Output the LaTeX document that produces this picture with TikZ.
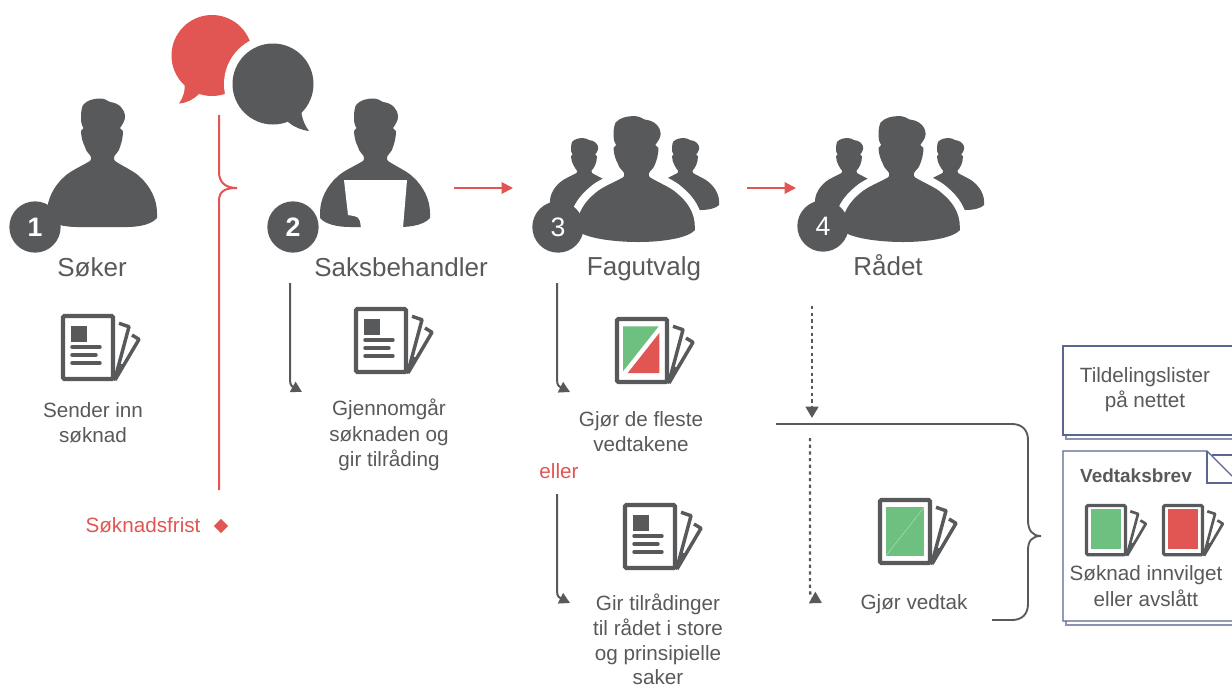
\documentclass[tikz,border=0pt]{standalone}
\usepackage{fontspec}
\setmainfont{Liberation Sans}
\usetikzlibrary{arrows.meta,shapes.geometric}
\definecolor{ink}{HTML}{58595B}
\definecolor{rd}{HTML}{E15552}
\definecolor{gr}{HTML}{6EC081}
\definecolor{navy}{HTML}{5A6890}
\definecolor{shade}{HTML}{8B94AE}
\def\iconw{3.1pt}
\def\iconb{2.6pt}
\newcommand{\personpath}{(-2,-128.5) .. controls (2,-128.5) and (5,-127) .. (8,-125) .. controls (17,-124) and (23,-118) .. (23,-110) .. controls (23,-106) and (20,-102) .. (18,-99) -- (21,-96) .. controls (21,-90) and (19.5,-84) .. (18,-80) .. controls (17,-75) and (13,-73) .. (12,-70) .. controls (12,-68) and (12,-67) .. (13,-66) .. controls (22,-60) and (32,-56) .. (38,-50) .. controls (48,-41) and (55,-28) .. (55,-14) -- (55,-9) .. controls (50,-3) and (38,0) .. (25,0) -- (-25,0) .. controls (-38,0) and (-50,-3) .. (-55,-9) -- (-55,-14) .. controls (-55,-28) and (-48,-41) .. (-38,-50) .. controls (-32,-56) and (-22,-60) .. (-12,-66) .. controls (-11,-67) and (-11,-68) .. (-11,-70) .. controls (-12,-73) and (-16,-75) .. (-17,-80) .. controls (-19,-84) and (-21,-90) .. (-21,-96) -- (-18.5,-99) .. controls (-21,-103) and (-21,-106) .. (-21,-110) .. controls (-21,-116) and (-20,-120) .. (-19,-122) .. controls (-15,-127) and (-8,-128.5) .. (-2,-128.5) -- cycle}
\newcommand{\bigpersonpath}{(-2,-128.5) .. controls (2,-128.5) and (5,-127) .. (8,-125) .. controls (17,-124) and (23,-118) .. (23,-110) .. controls (23,-106) and (20,-102) .. (18,-99) -- (21,-96) .. controls (21,-90) and (19.5,-84) .. (18,-80) .. controls (17,-75) and (13,-73) .. (12,-70) .. controls (12,-68) and (12,-67) .. (13,-66) .. controls (22,-60) and (32,-56) .. (38,-50) .. controls (48,-41) and (55,-30) .. (55,-15) -- (55,-12) .. controls (48,-4) and (25,0) .. (2,0) .. controls (-21,0) and (-48,-4) .. (-55,-12) -- (-55,-15) .. controls (-55,-30) and (-48,-41) .. (-38,-50) .. controls (-32,-56) and (-22,-60) .. (-12,-66) .. controls (-11,-67) and (-11,-68) .. (-11,-70) .. controls (-12,-73) and (-16,-75) .. (-17,-80) .. controls (-19,-84) and (-21,-90) .. (-21,-96) -- (-18.5,-99) .. controls (-21,-103) and (-21,-106) .. (-21,-110) .. controls (-21,-116) and (-20,-120) .. (-19,-122) .. controls (-15,-127) and (-8,-128.5) .. (-2,-128.5) -- cycle}
\newcommand{\docframecode}{%
    \draw[ink,line width=\iconb,line join=round] (58,9.3) -- (68,12.7) -- (55,61);
    \draw[ink,line width=\iconb,line join=round] (71,21) -- (78,25.3) -- (54,66);
    \fill[ink] (52,66) -- (58,50) -- (62,50) -- (54,67) -- cycle;
    \draw[ink,line width=\iconw,fill=white,rounded corners=1pt] (2,2) rectangle (52,65);
}
\tikzset{
  x=0.75pt,y=-0.75pt,
  lbl/.style={text=ink,font=\fontsize{15.5pt}{19pt}\selectfont,align=center,inner sep=0pt},
  role/.style={text=ink,font=\fontsize{19.5pt}{24pt}\selectfont,inner sep=0pt,anchor=base},
  badge/.style={circle,fill=ink,minimum size=38.5pt,inner sep=0pt,text=white,font=\fontsize{20pt}{24pt}\selectfont},
  redline/.style={draw=rd,line width=1.5pt},
  redarrow/.style={draw=rd,line width=1.5pt,-{Triangle[length=8.5pt,width=8.5pt]}},
  flow/.style={draw=ink,line width=1.5pt,-{Triangle[length=8pt,width=8.5pt]}},
  dots/.style={draw=ink,line width=1.8pt,dash pattern=on 2.4pt off 2.6pt,-{Triangle[length=8.5pt,width=9.5pt]}},
  paper/.style={draw=navy,line width=0.8pt,fill=white},
  shadowline/.style={draw=shade,line width=1.3pt},
  pics/person/.style={code={\fill[ink] \personpath;}},
  pics/halo/.style={code={\draw[white,line width=12pt,line join=round] \bigpersonpath;\fill[ink] \bigpersonpath;}},
  pics/doctext/.style={code={
    \docframecode
    \fill[ink] (10,12) rectangle (26,28);
    \draw[ink,line width=\iconb,line cap=round] (11,33) -- (39,33) (11,41) -- (35,41) (11,49) -- (39,49);
  }},
  pics/docsplit/.style={code={
    \docframecode
    \fill[gr] (8,9.3) -- (43.7,9.3) -- (8,54.3) -- cycle;
    \fill[rd] (44.3,16) -- (44.3,56) -- (12.7,56) -- cycle;
  }},
  pics/docgreen/.style={code={
    \docframecode
    \fill[gr] (8,9) rectangle (46.3,57.7);
    \draw[white,opacity=.5,line width=.3pt] (8,57.7) -- (46.3,9);
  }},
  pics/docgreensmall/.style={code={
    \docframecode
    \fill[gr] (7.7,7) rectangle (46,58);
  }},
  pics/docredsmall/.style={code={
    \docframecode
    \fill[rd] (7.7,7) rectangle (46,58);
  }},
}
\begin{document}
\begin{tikzpicture}
\useasboundingbox (0,0) rectangle (1232,687);
% speech bubbles
\fill[rd] (212,55.5) circle[radius=40.5];
\fill[rd] (184,82) .. controls (186,90) and (183,98) .. (179,103.5) .. controls (187,103) and (194,99) .. (199,94) -- (205,80) -- cycle;
\fill[white] (273,84) circle[radius=49];
\fill[ink] (273,84) circle[radius=40.5];
\fill[ink] (301,110) .. controls (302,119) and (305,126) .. (309,131) .. controls (301,130) and (294,127) .. (288,122) -- (280,110) -- cycle;
% persons
\pic at (102,227) {person};
\pic at (375,227) {person};
\fill[white] (344,180) -- (407,180) -- (403,228) -- (361,228) -- (360,221) .. controls (359,218) and (357,216) .. (354,216) -- (348,215) -- cycle;
\pic[xscale=.62,yscale=.56] at (584,210) {person};
\pic[xscale=.62,yscale=.56] at (685,210) {person};
\pic[xscale=1.07,yscale=.98] at (636,242) {halo};
\pic[xscale=.62,yscale=.56] at (849,210) {person};
\pic[xscale=.62,yscale=.56] at (950,210) {person};
\pic[xscale=1.07,yscale=.98] at (901,242) {halo};
% badges
\node[badge,font=\bfseries\fontsize{20pt}{24pt}\selectfont] (b1) at (35,227) {1};
\node[badge,font=\bfseries\fontsize{20pt}{24pt}\selectfont] (b2) at (293,227) {2};
\node[badge] (b3) at (558,227) {3};
\node[badge] (b4) at (823,226) {4};
% role labels
\node[role] (r1) at (92,276) {Søker};
\node[role] (r2) at (401,276) {Saksbehandler};
\node[role] (r3) at (644,275.5) {Fagutvalg};
\node[role] (r4) at (888,275.5) {Rådet};
% red brace and deadline
\coordinate (bt) at (219,115);
\coordinate (bb) at (219,490);
\draw[redline] (bt) -- (219,172) .. controls (219,182) and (225,188) .. (237,188) .. controls (225,188) and (219,191) .. (219,201) -- (bb);
\node[text=rd,font=\fontsize{15.5pt}{19pt}\selectfont,inner sep=0pt] (frist) at (143,525) {Søknadsfrist};
\node[diamond,fill=rd,minimum size=11pt,inner sep=0pt] (dia) at (221,526) {};
% red arrows
\coordinate (ra1) at (454,188); \coordinate (ra2) at (513,188);
\coordinate (ra3) at (747,188); \coordinate (ra4) at (796,188);
\draw[redarrow] (ra1) -- (ra2);
\draw[redarrow] (ra3) -- (ra4);
% icons
\pic at (61,314) {doctext};
\pic at (354,307) {doctext};
\pic at (615,317) {docsplit};
\pic at (623,503) {doctext};
\pic at (878,498) {docgreen};
% texts
\node[lbl] (t1) at (93,422.5) {Sender inn\\søknad};
\node[lbl] (t2) at (389,435) {Gjennomgår\\søknaden og\\gir tilråding};
\node[lbl] (t3) at (641,431.5) {Gjør de fleste\\vedtakene};
\node[text=rd,font=\fontsize{15.5pt}{19pt}\selectfont,inner sep=0pt] (or) at (559,471) {eller};
\node[lbl,font=\fontsize{15.5pt}{18.6pt}\selectfont] (t4) at (658,639.5) {Gir tilrådinger\\til rådet i store\\og prinsipielle\\saker};
\node[lbl] (t5) at (914,604) {Gjør vedtak};
% flow connectors
\coordinate (a1) at (290,283); \coordinate (a2) at (302,392);
\coordinate (c1) at (557,283); \coordinate (c2) at (570,392);
\coordinate (d1) at (557,494); \coordinate (d2) at (570,603);
\coordinate (e1) at (812,306); \coordinate (e2) at (812,418);
\coordinate (f1) at (810,438); \coordinate (f2) at (822,603);
\draw[flow] (a1) -- (290,380) .. controls (290,386) and (293,387) .. (a2);
\draw[flow] (c1) -- (557,380) .. controls (557,386) and (560,387) .. (c2);
\draw[flow] (d1) -- (557,591) .. controls (557,597) and (560,598) .. (d2);
\draw[dots] (e1) -- (e2);
\draw[dots] (f1) -- (810,591) .. controls (810,597) and (813,598) .. (f2);
% dark bracket
\coordinate (k1) at (776,424); \coordinate (k2) at (992,620);
\draw[ink,line width=1.4pt] (k1) -- (1012,424) .. controls (1022,424) and (1028,430) .. (1028,440) -- (1028,520) .. controls (1028,530) and (1032,536) .. (1041,536) .. controls (1032,536) and (1028,541) .. (1028,550) -- (1028,604) .. controls (1028,614) and (1022,620) .. (1012,620) -- (k2);
% paper boxes
\draw[shadowline] (1066,435) -- (1066,439) -- (1232,439);
\draw[paper] (1232,346) -- (1063,346) -- (1063,435) -- (1232,435);
\node[lbl] (t6) at (1145,389.5) {Tildelingslister\\på nettet};
\draw[shadowline] (1066,621) -- (1066,625) -- (1232,625);
\draw[paper] (1232,621) -- (1063,621) -- (1063,451) -- (1207,451) -- (1232,476);
\draw[navy,line width=.8pt] (1207,451) -- (1207,483) -- (1232,483);
\draw[navy,line width=.8pt] (1212,455) -- (1232,455);
\node[lbl,font=\bfseries\fontsize{14.2pt}{19pt}\selectfont] (t7) at (1136,476) {Vedtaksbrev};
\begin{scope}
\def\iconw{2.4pt}\def\iconb{2pt}
\pic[scale=.78] at (1085,504) {docgreensmall};
\pic[scale=.78] at (1162,504) {docredsmall};
\end{scope}
\node[lbl] (t8) at (1146,586) {Søknad innvilget\\eller avslått};
\end{tikzpicture}
\end{document}
